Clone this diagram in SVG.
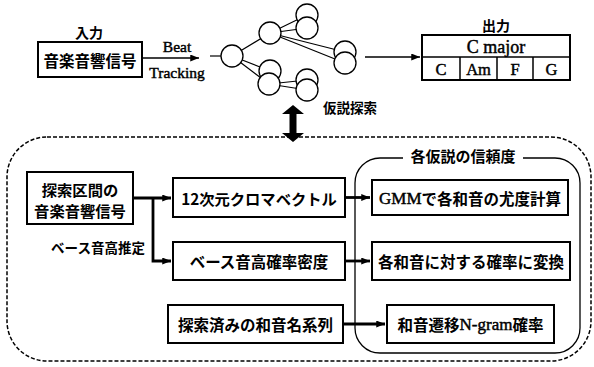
<svg xmlns="http://www.w3.org/2000/svg" width="594" height="367" viewBox="0 0 594 367">
<style>
.jp{font-family:"Noto Sans CJK JP","Noto Sans",sans-serif;font-weight:700;fill:#000;text-anchor:middle;dominant-baseline:central}
.se{font-family:"Liberation Serif",serif;fill:#000;stroke:#000;stroke-width:0.45;text-anchor:middle;dominant-baseline:central}
.lat{font-family:"Liberation Serif",serif;font-weight:400;stroke:#000;stroke-width:0.45}
.box{fill:#fff;stroke:#000;stroke-width:2}
.node{fill:#fff;stroke:#000;stroke-width:1.3}
.thin{fill:none;stroke:#000;stroke-width:1.5}
.thick{fill:none;stroke:#000;stroke-width:2.8}
.edge{fill:none;stroke:#000;stroke-width:1.2}
</style>
<defs>
<marker id="ah" viewBox="0 0 10 8" refX="10" refY="4" markerUnits="userSpaceOnUse" markerWidth="9" markerHeight="7" orient="auto"><path d="M0,0 L10,4 L0,8 Z" fill="#000"/></marker>
</defs>
<rect width="594" height="367" fill="#fff"/>

<!-- containers -->
<g id="search-region">
<rect x="7" y="137" width="584" height="224" rx="40" fill="none" stroke="#000" stroke-width="1.5" stroke-dasharray="4 2"/>
</g>
<g id="reliability-group">
<path d="M523,158 H555 A25,25 0 0 1 580,183 V328 A25,25 0 0 1 555,353 H380 A25,25 0 0 1 355,328 V183 A25,25 0 0 1 380,158 H403" fill="none" stroke="#000" stroke-width="1.3"/>
<text class="jp" x="463" y="155" font-size="15">各仮説の信頼度</text>
</g>

<!-- connectors -->
<g id="connectors">
<path class="thin" d="M143,58 H199" marker-end="url(#ah)"/>
<path class="thin" d="M365,57 H420" marker-end="url(#ah)"/>
<path class="thick" d="M133,198 H171" marker-end="url(#ah)"/>
<path class="thick" d="M153,198 V261 H171" marker-end="url(#ah)"/>
<path class="thick" d="M345,197.5 H370" marker-end="url(#ah)"/>
<path class="thick" d="M345,261 H370" marker-end="url(#ah)"/>
<path class="thick" d="M343,324 H385" marker-end="url(#ah)"/>
<polygon points="293,105 304,114 296.5,114 296.5,133 304,133 293,142 282,133 289.5,133 289.5,114 282,114" fill="#000"/>
</g>

<!-- hypothesis tree -->
<g id="tree">
<path class="edge" d="M210,56 H221"/>
<path class="edge" d="M232,56 L270,33 M232,56 L270,71 M232,56 L269,84"/>
<path class="edge" d="M270,33 L307,15 M270,33 L307,28 M270,33 L345,52 M270,33 L345,63"/>
<path class="edge" d="M269,84 L307,80 M269,84 L307,90"/>
<circle class="node" cx="232" cy="56" r="11"/>
<circle class="node" cx="270" cy="33" r="11"/>
<circle class="node" cx="270" cy="71" r="11"/>
<circle class="node" cx="269" cy="84" r="11"/>
<circle class="node" cx="307" cy="15" r="11"/>
<circle class="node" cx="307" cy="28" r="11"/>
<circle class="node" cx="345" cy="52" r="11"/>
<circle class="node" cx="345" cy="63" r="11"/>
<circle class="node" cx="307" cy="80" r="11"/>
<circle class="node" cx="307" cy="90" r="11"/>
<text class="jp" x="350" y="107" font-size="13.5">仮説探索</text>
</g>

<!-- labels -->
<text class="jp" x="89" y="32" font-size="14">入力</text>
<text class="jp" x="496" y="25" font-size="14">出力</text>
<text class="se" x="177" y="46" font-size="15.5">Beat</text>
<text class="se" x="177" y="72" font-size="15.5">Tracking</text>
<text class="jp" x="98" y="247" font-size="13.5">ベース音高推定</text>

<g id="input">
<rect class="box" x="38" y="42" width="104" height="35"/>
<text class="jp" x="90" y="59.5" font-size="15.5">音楽音響信号</text>
</g>

<g id="output">
<rect class="box" x="422" y="35" width="148" height="45"/>
<path d="M422,57 H570 M460,57 V80 M497,57 V80 M533,57 V80" stroke="#000" stroke-width="1.5" fill="none"/>
<text class="se" x="496" y="47" font-size="18">C major</text>
<text class="se" x="441" y="69.5" font-size="16.5">C</text>
<text class="se" x="478.5" y="69.5" font-size="16.5">Am</text>
<text class="se" x="515" y="69.5" font-size="16.5">F</text>
<text class="se" x="551.5" y="69.5" font-size="16.5">G</text>
</g>

<g id="search-signal">
<rect class="box" x="27" y="172" width="106" height="52"/>
<text class="jp" x="80" y="189" font-size="15.3">探索区間の</text>
<text class="jp" x="80" y="210" font-size="15.3">音楽音響信号</text>
</g>

<g id="chroma">
<rect class="box" x="173" y="178" width="172" height="39"/>
<text class="jp" x="259" y="197.5" font-size="15.3">12次元クロマベクトル</text>
</g>

<g id="bass">
<rect class="box" x="173" y="242" width="172" height="38"/>
<text class="jp" x="259" y="261" font-size="15.5">ベース音高確率密度</text>
</g>

<g id="history">
<rect class="box" x="168" y="305" width="175" height="38"/>
<text class="jp" x="255.5" y="324" font-size="15.5">探索済みの和音名系列</text>
</g>

<g id="gmm">
<rect class="box" x="372" y="180" width="196" height="35"/>
<text class="jp" x="470" y="197.5" font-size="15.5"><tspan class="lat" font-size="17">GMM</tspan>で各和音の尤度計算</text>
</g>

<g id="convert">
<rect class="box" x="372" y="242" width="198" height="38"/>
<text class="jp" x="471" y="261" font-size="15.5">各和音に対する確率に変換</text>
</g>

<g id="ngram">
<rect class="box" x="387" y="305" width="167" height="38"/>
<text class="jp" x="470.5" y="324" font-size="15.5">和音遷移<tspan class="lat" font-size="17">N-gram</tspan>確率</text>
</g>
</svg>
